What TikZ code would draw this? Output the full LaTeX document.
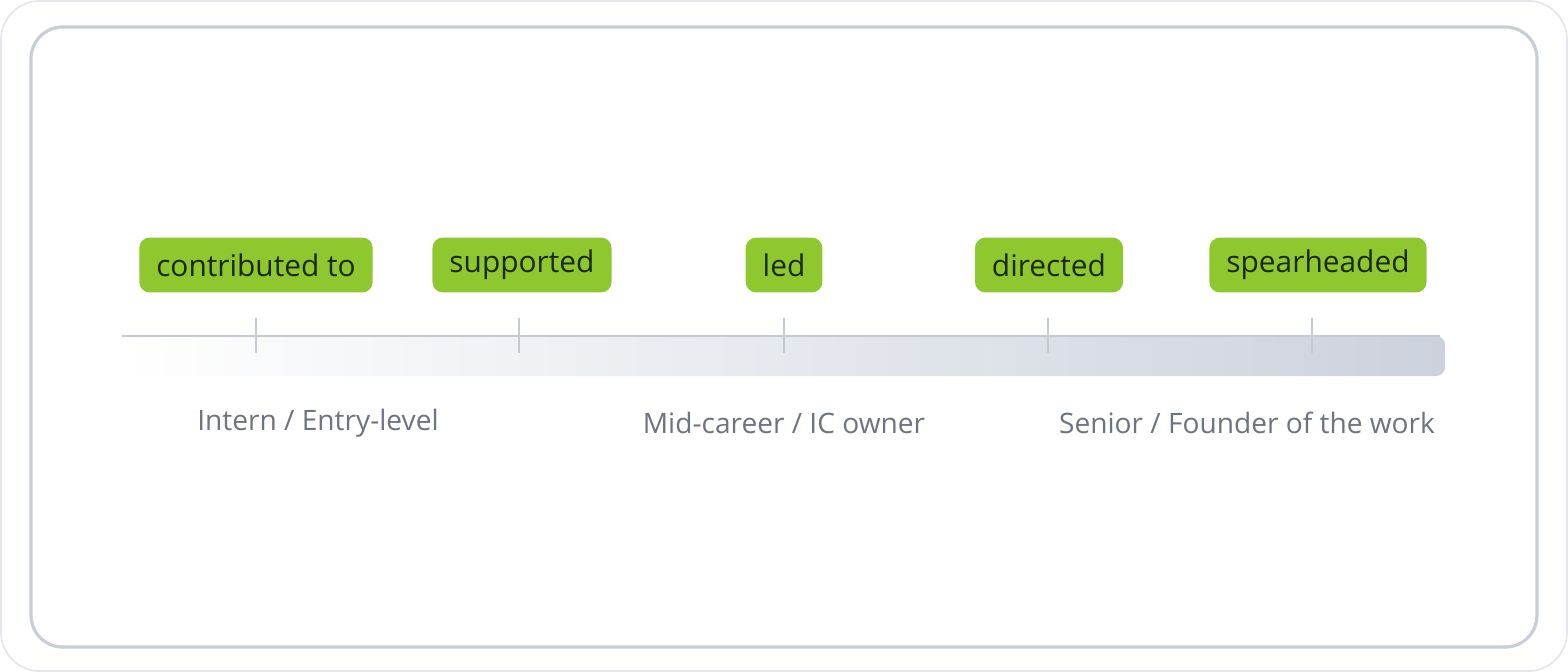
\documentclass[tikz,border=0pt]{standalone}
\usepackage{fontspec}
\setmainfont{Open Sans}
\usetikzlibrary{positioning}
\definecolor{frame}{RGB}{200, 206, 214}
\definecolor{verb}{RGB}{143, 200, 46}
\definecolor{ink}{RGB}{28, 40, 22}
\definecolor{axis}{RGB}{196, 202, 211}
\definecolor{barend}{RGB}{204, 210, 221}
\definecolor{level}{RGB}{107, 116, 128}

\tikzset{
  verbbox/.style={fill=verb, rounded corners=6pt, text=ink, font=\fontsize{17}{20}\selectfont,
    minimum height=1.1cm, inner xsep=0.34cm},
  levelname/.style={text=level, font=\fontsize{16}{19}\selectfont},
  tick/.style={axis, line width=1.3pt}
}

\begin{document}
\begin{tikzpicture}[x=0.02cm, y=-0.02cm]
            \useasboundingbox (0,0) rectangle (1568,672);
            \draw[frame!50, line width=1pt, rounded corners=22pt] (1,1) rectangle (1567,671);
            \draw[frame, line width=1.8pt, rounded corners=18pt, fill=white] (31,27) rectangle (1537,647);

            % Gradient band and axis
            \shade[left color=white, right color=barend, rounded corners=5pt] (122,336) rectangle (1445,376);
            \draw[axis, line width=1.6pt] (122,336) -- (1440,336);

            % Verbs
            \node[verbbox] (contrib) at (256,265) {contributed to};
            \node[verbbox] (support) at (522,265) {supported};
            \node[verbbox] (led) at (784,265) {led};
            \node[verbbox] (direct) at (1049,265) {directed};
            \node[verbbox] (spear) at (1318,265) {spearheaded};

            % Ticks
            \foreach \x in {256,519,784,1048,1312}
                \draw[tick] (\x,318) -- (\x,353);

            % Levels
            \node[levelname] (entry) at (318,423) {Intern / Entry-level};
            \node[levelname] (mid) at (784,423) {Mid-career / IC owner};
            \node[levelname] (senior) at (1247,423) {Senior / Founder of the work};
        \end{tikzpicture}
\end{document}
